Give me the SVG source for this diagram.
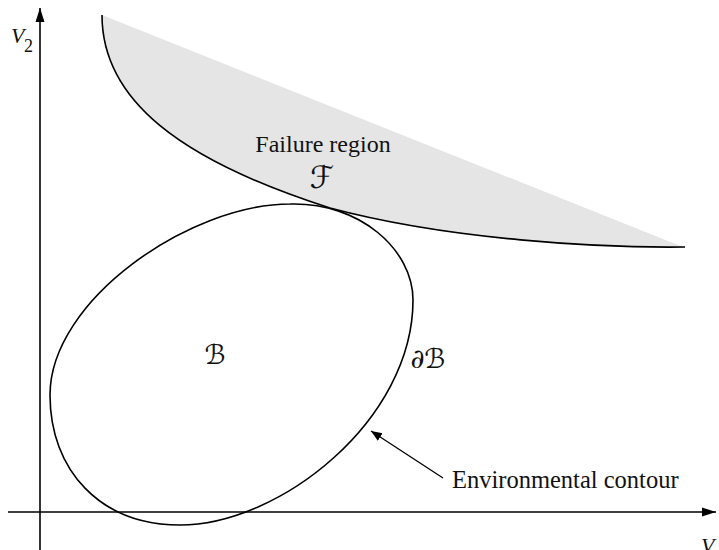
<svg xmlns="http://www.w3.org/2000/svg" width="719" height="550" viewBox="0 0 719 550">
<style>
.ln{fill:none;stroke:#000;stroke-width:1.6}
.t{font-family:"Liberation Serif",serif;fill:#111}
.i{font-family:"Liberation Serif",serif;font-style:italic;fill:#111}
.s{font-family:"DejaVu Serif","DejaVu Sans",serif;fill:#111}
</style>
<defs>
<marker id="ah" viewBox="0 0 10 10" refX="10" refY="5" markerWidth="11" markerHeight="11" markerUnits="userSpaceOnUse" orient="auto">
<path d="M0,1 L10,5 L0,9 Z" fill="#000"/>
</marker>
<marker id="ax" viewBox="0 0 14 10" refX="14" refY="5" markerWidth="14" markerHeight="10" markerUnits="userSpaceOnUse" orient="auto">
<path d="M0,0.5 L14,5 L0,9.5 Z" fill="#000"/>
</marker>
</defs>
<rect width="719" height="550" fill="#fff"/>
<g id="failure">
<path d="M102,15 C102,100 180,160 330,208 C450,240 600,248 685,247 L683,247 Z" fill="#e5e5e5"/>
<path class="ln" d="M102,15 C102,100 180,160 330,208 C450,240 600,248 685,247"/>
<text class="t" x="323" y="152" font-size="24" text-anchor="middle">Failure region</text>
<text class="s" x="322" y="188" font-size="31" text-anchor="middle">ℱ</text>
</g>
<g id="contour">
<path class="ln" d="M290,204 C360,202 413,250 413,300 C413,420 280,525 180,525 C100,525 50,470 50,395 C50,300 190,204 290,204 Z"/>
<text class="s" x="215" y="364" font-size="27" text-anchor="middle">ℬ</text>
<text class="s" x="428" y="368" font-size="27" text-anchor="middle">∂ℬ</text>
</g>
<g id="label">
<text class="t" x="452" y="488" font-size="24.5">Environmental contour</text>
</g>
<g id="axes">
<line class="ln" x1="40" y1="550" x2="40" y2="8" marker-end="url(#ax)"/>
<line class="ln" x1="8" y1="512" x2="716" y2="512" marker-end="url(#ax)"/>
<text class="i" x="11" y="43" font-size="22">V</text>
<text class="t" x="24" y="52" font-size="18">2</text>
<text class="i" x="701" y="553" font-size="22">V</text>
</g>
<g id="connectors">
<line x1="443" y1="478" x2="371" y2="431" stroke="#000" stroke-width="1.3" marker-end="url(#ah)"/>
</g>
</svg>
